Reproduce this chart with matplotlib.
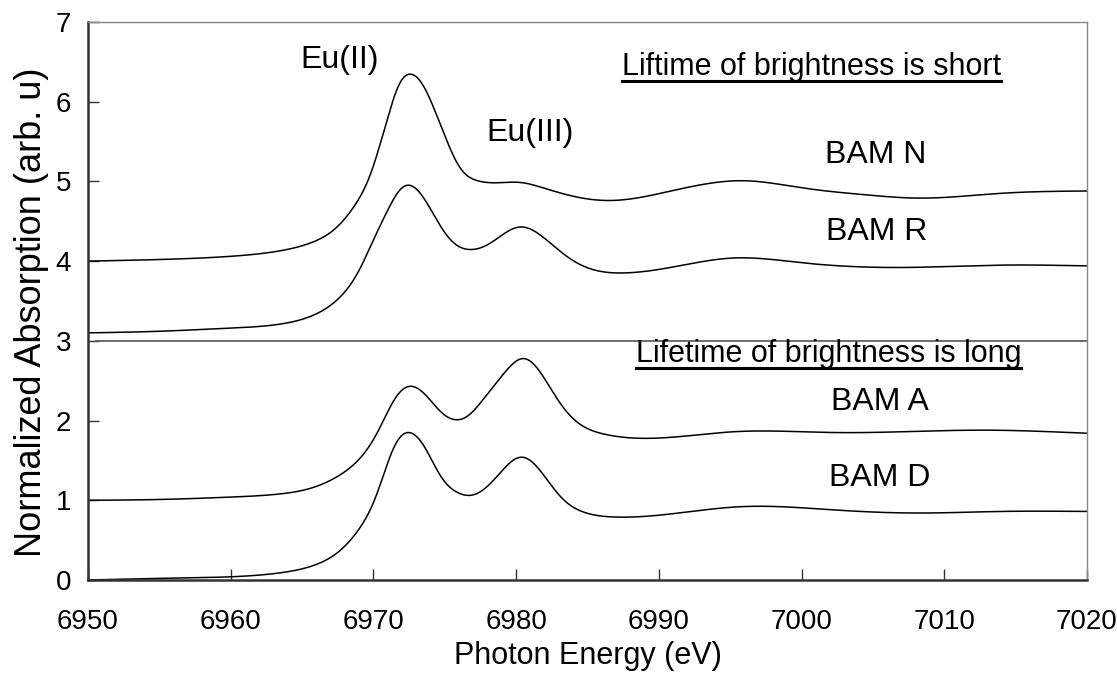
import matplotlib

matplotlib.use("Agg")
import matplotlib.pyplot as plt
from matplotlib.lines import Line2D
import numpy as np

plt.rcParams["font.family"] = ["Liberation Sans", "DejaVu Sans"]

# photon energy (eV) and normalized absorption for each sample, offset vertically
energy_n = [6950, 6955.0, 6960.0, 6963.5, 6965.8, 6967.5, 6968.9, 6969.8, 6970.5,
            6971.2, 6971.9, 6972.4, 6973.3, 6974.2, 6975.2, 6976.1, 6977.0, 6978.4, 6980.3,
            6981.7, 6983.6, 6985.4, 6986.8, 6990.6, 6993.0, 6995.9, 7000.0, 7004.6, 7008.1,
            7013.9, 7020]
bam_n = [4.00, 4.02, 4.06, 4.13, 4.24, 4.43, 4.75, 5.07, 5.48,
         5.93, 6.30, 6.37, 6.28, 5.94, 5.48, 5.14, 5.02, 4.98, 4.99,
         4.93, 4.83, 4.77, 4.76, 4.87, 4.96, 5.01, 4.92, 4.83, 4.79,
         4.85, 4.88]

energy_r = [6950, 6955.0, 6960.0, 6963.5, 6965.8, 6967.7, 6969.1, 6970.0, 6971.0,
            6971.9, 6972.4, 6973.5, 6974.7, 6975.9, 6976.6, 6978.0, 6980.3, 6981.7, 6983.6,
            6985.4, 6987.3, 6991.7, 6995.2, 7000.0, 7006.9, 7013.9, 7020]
bam_r = [3.10, 3.12, 3.16, 3.21, 3.32, 3.55, 3.91, 4.27, 4.64,
         4.93, 4.98, 4.81, 4.43, 4.18, 4.14, 4.20, 4.44, 4.33, 4.05,
         3.89, 3.85, 3.95, 4.04, 3.98, 3.92, 3.95, 3.94]

energy_a = [6950, 6955.0, 6960.0, 6963.5, 6965.8, 6967.7, 6969.3, 6970.5, 6971.4,
            6972.6, 6973.7, 6974.9, 6975.7, 6976.5, 6977.5, 6978.5, 6979.5, 6980.4, 6981.3,
            6982.9, 6984.3, 6985.9, 6988.2, 6995.2, 7002.2, 7012.7, 7020]
bam_a = [1.00, 1.01, 1.04, 1.08, 1.16, 1.32, 1.57, 1.92, 2.26,
         2.45, 2.32, 2.07, 2.00, 2.03, 2.22, 2.45, 2.67, 2.80, 2.71,
         2.26, 1.97, 1.84, 1.78, 1.86, 1.85, 1.88, 1.84]

energy_d = [6950, 6955.0, 6960.0, 6963.5, 6965.8, 6967.7, 6969.1, 6970.3, 6971.2,
            6971.9, 6972.6, 6973.5, 6974.7, 6975.9, 6976.6, 6978.0, 6979.4, 6980.3, 6981.5,
            6983.1, 6984.7, 6986.8, 6988.2, 6995.7, 7002.2, 7008.1, 7013.9, 7020]
bam_d = [0.00, 0.02, 0.04, 0.09, 0.18, 0.37, 0.66, 1.09, 1.59,
         1.83, 1.87, 1.71, 1.29, 1.09, 1.05, 1.17, 1.45, 1.56, 1.42,
         1.04, 0.85, 0.79, 0.79, 0.92, 0.88, 0.84, 0.86, 0.86]

x_ticks = [6950, 6960, 6970, 6980, 6990, 7000, 7010, 7020]
y_ticks = [0, 1, 2, 3, 4, 5, 6, 7]


def smooth_curve(x, y, n=1400, sigma=0.4):
    # natural cubic spline through the traced points, then a light gaussian pass
    x = np.asarray(x, float)
    y = np.asarray(y, float)
    k = len(x)
    h = np.diff(x)
    A = np.zeros((k, k))
    b = np.zeros(k)
    A[0, 0] = A[-1, -1] = 1.0
    for i in range(1, k - 1):
        A[i, i - 1] = h[i - 1]
        A[i, i] = 2 * (h[i - 1] + h[i])
        A[i, i + 1] = h[i]
        b[i] = 6 * ((y[i + 1] - y[i]) / h[i] - (y[i] - y[i - 1]) / h[i - 1])
    M = np.linalg.solve(A, b)
    xs = np.linspace(x[0], x[-1], n)
    idx = np.clip(np.searchsorted(x, xs) - 1, 0, k - 2)
    x0, x1 = x[idx], x[idx + 1]
    hi = h[idx]
    ys = (M[idx] * (x1 - xs) ** 3 / (6 * hi) + M[idx + 1] * (xs - x0) ** 3 / (6 * hi)
          + (y[idx] / hi - M[idx] * hi / 6) * (x1 - xs)
          + (y[idx + 1] / hi - M[idx + 1] * hi / 6) * (xs - x0))
    step = xs[1] - xs[0]
    half = int(4 * sigma / step)
    kern = np.exp(-0.5 * (np.arange(-half, half + 1) * step / sigma) ** 2)
    kern /= kern.sum()
    padded = np.concatenate([np.full(half, ys[0]), ys, np.full(half, ys[-1])])
    return xs, np.convolve(padded, kern, mode="valid")


fig = plt.figure(figsize=(11.17, 6.76), dpi=100)
ax = fig.add_axes([0.0788, 0.142, 0.8943, 0.8255])

for ex, ey in [(energy_n, bam_n), (energy_r, bam_r), (energy_a, bam_a), (energy_d, bam_d)]:
    xs, ys = smooth_curve(ex, ey)
    ax.plot(xs, ys, color="black", linewidth=1.1)

# divider between short- and long-lifetime groups
ax.axhline(3, xmin=0.008, xmax=1, color="#555555", linewidth=1.2)

ax.set_xlim(6950, 7020)
ax.set_ylim(0, 7)
ax.set_xticks(x_ticks)
ax.set_yticks(y_ticks)
ax.tick_params(direction="in", length=8, width=1.0, labelsize=20, colors="#333333",
               labelcolor="black")
ax.tick_params(axis="x", pad=21)
ax.tick_params(axis="y", pad=12)

for side in ("left", "bottom"):
    ax.spines[side].set_linewidth(1.8)
    ax.spines[side].set_color("#333333")
for side in ("top", "right"):
    ax.spines[side].set_linewidth(1.0)
    ax.spines[side].set_color("#888888")

ax.set_xlabel("Photon Energy (eV)", fontsize=22, labelpad=4)
ax.set_ylabel("Normalized Absorption (arb. u)", fontsize=26)
ax.yaxis.set_label_coords(-0.039, 0.48)

ax.text(6967.6, 6.52, "Eu(II)", fontsize=23, ha="center", va="center")
ax.text(6981.0, 5.61, "Eu(III)", fontsize=23, ha="center", va="center")
ax.text(7005.2, 5.33, "BAM N", fontsize=23, ha="center", va="center")
ax.text(7005.3, 4.37, "BAM R", fontsize=23, ha="center", va="center")
ax.text(7005.5, 2.23, "BAM A", fontsize=23, ha="center", va="center")
ax.text(7005.5, 1.28, "BAM D", fontsize=23, ha="center", va="center")

headings = [
    ax.text(7000.7, 6.44, "Liftime of brightness is short", fontsize=22, ha="center", va="center"),
    ax.text(7001.9, 2.83, "Lifetime of brightness is long", fontsize=22, ha="center", va="center"),
]

# underline the two group headings
fig.canvas.draw()
renderer = fig.canvas.get_renderer()
inv = fig.transFigure.inverted()
for t in headings:
    bb = t.get_window_extent(renderer)
    (x0, y0), (x1, _) = inv.transform([(bb.x0, bb.y0 + 1), (bb.x1, bb.y0 + 1)])
    fig.add_artist(Line2D([x0, x1], [y0, y0], transform=fig.transFigure, color="black", linewidth=2.2))

fig.savefig("out.png", dpi=100)
